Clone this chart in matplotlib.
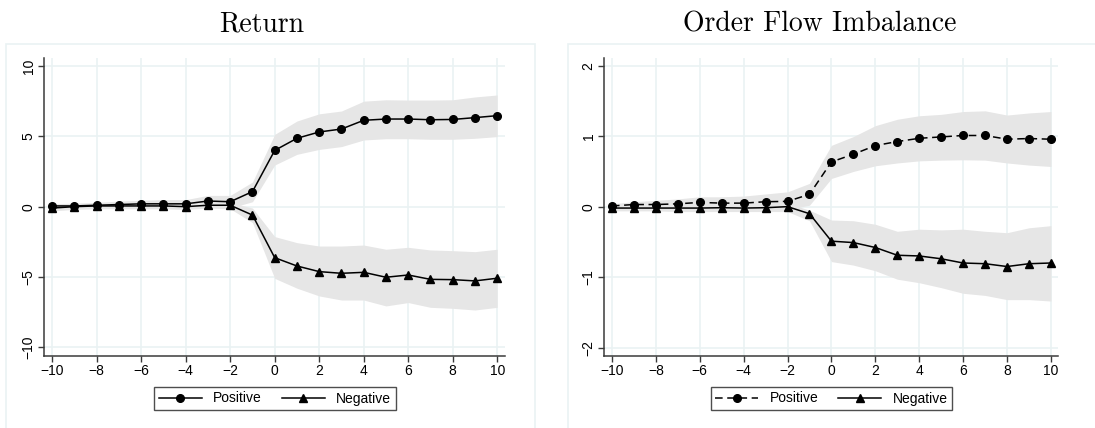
import matplotlib
matplotlib.use("Agg")
import matplotlib.pyplot as plt
from matplotlib.patches import Rectangle

# event time
lags = list(range(-10, 11))

# Return panel
ret_pos = [0.05, 0.05, 0.1, 0.15, 0.2, 0.2, 0.2, 0.4, 0.35, 1.07, 4.0,
           4.86, 5.31, 5.52, 6.14, 6.23, 6.23, 6.18, 6.2, 6.33, 6.47]
ret_pos_hi = [0.2, 0.25, 0.3, 0.4, 0.45, 0.5, 0.5, 0.8, 0.8, 1.75, 5.14,
              6.09, 6.6, 6.8, 7.5, 7.6, 7.58, 7.58, 7.6, 7.8, 7.94]
ret_pos_lo = [-0.1, -0.1, -0.1, -0.1, -0.05, -0.1, -0.1, 0.0, -0.1, 0.35, 2.96,
              3.72, 4.07, 4.27, 4.74, 4.83, 4.83, 4.79, 4.79, 4.86, 4.98]
ret_neg = [-0.1, 0.0, 0.05, 0.05, 0.05, 0.05, 0.0, 0.1, 0.1, -0.6, -3.63,
           -4.22, -4.62, -4.74, -4.67, -5.02, -4.86, -5.17, -5.19, -5.28, -5.09]
ret_neg_hi = [0.1, 0.15, 0.2, 0.2, 0.25, 0.25, 0.2, 0.3, 0.3, -0.1, -2.13,
              -2.56, -2.8, -2.8, -2.73, -3.03, -2.89, -3.08, -3.13, -3.2, -3.03]
ret_neg_lo = [-0.3, -0.2, -0.15, -0.15, -0.15, -0.15, -0.2, -0.1, -0.15, -1.14, -5.1,
              -5.8, -6.35, -6.64, -6.64, -7.06, -6.82, -7.16, -7.23, -7.35, -7.16]

# Order flow imbalance panel
ofi_pos = [0.01, 0.03, 0.03, 0.04, 0.06, 0.05, 0.05, 0.07, 0.075, 0.175, 0.635,
           0.744, 0.867, 0.924, 0.97, 0.99, 1.01, 1.01, 0.957, 0.967, 0.957]
ofi_pos_hi = [0.04, 0.07, 0.09, 0.11, 0.14, 0.14, 0.15, 0.18, 0.21, 0.33, 0.87,
              0.995, 1.15, 1.24, 1.29, 1.31, 1.35, 1.36, 1.30, 1.33, 1.35]
ofi_pos_lo = [-0.02, -0.01, -0.02, -0.02, -0.02, -0.03, -0.03, -0.03, -0.04, 0.02, 0.40,
              0.5, 0.58, 0.62, 0.65, 0.66, 0.665, 0.66, 0.62, 0.59, 0.57]
ofi_neg = [-0.02, -0.02, -0.02, -0.02, -0.02, -0.015, -0.02, -0.015, 0.0, -0.10, -0.49,
           -0.51, -0.58, -0.69, -0.70, -0.74, -0.80, -0.81, -0.85, -0.81, -0.80]
ofi_neg_hi = [0.02, 0.02, 0.02, 0.02, 0.03, 0.03, 0.03, 0.03, 0.05, -0.05, -0.19,
              -0.2, -0.25, -0.35, -0.32, -0.33, -0.32, -0.35, -0.37, -0.3, -0.27]
ofi_neg_lo = [-0.06, -0.06, -0.06, -0.07, -0.07, -0.07, -0.07, -0.07, -0.07, -0.2, -0.78,
              -0.83, -0.91, -1.03, -1.08, -1.15, -1.23, -1.26, -1.32, -1.32, -1.34]

plt.rcParams["font.family"] = ["Liberation Sans", "DejaVu Sans"]

W, H = 1095, 428
fig = plt.figure(figsize=(W / 100, H / 100), dpi=100)

band_col = "#e6e6e6"
grid_col = "#eaf2f3"
axis_col = "#3a3a3a"


def px_axes(x0, y0, x1, y1):
    # pixel box (top-left origin) -> figure axes
    return fig.add_axes([x0 / W, 1 - y1 / H, (x1 - x0) / W, (y1 - y0) / H])


def panel(box, ax_box, title, title_x, xlim, ylim, yticks,
          pos, pos_lo, pos_hi, neg, neg_lo, neg_hi, pos_style, leg_box):
    # light frame round the panel
    fig.patches.append(Rectangle((box[0] / W, 1 - box[3] / H),
                                 (box[2] - box[0]) / W, (box[3] - box[1]) / H,
                                 transform=fig.transFigure, fill=False,
                                 edgecolor=grid_col, linewidth=1.2))
    fig.text(title_x / W, 1 - 24 / H, title, family="cmr10", fontsize=20,
             ha="center", va="center")

    ax = px_axes(*ax_box)
    ax.fill_between(lags, pos_lo, pos_hi, color=band_col, linewidth=0, zorder=1)
    ax.fill_between(lags, neg_lo, neg_hi, color=band_col, linewidth=0, zorder=1)
    l1, = ax.plot(lags, pos, color="black", linestyle=pos_style, linewidth=1.1,
                  marker="o", markersize=5.5, zorder=3,
                  dashes=(5, 3) if pos_style == "--" else (None, None))
    l2, = ax.plot(lags, neg, color="black", linewidth=1.1, marker="^",
                  markersize=6, zorder=3)

    ax.set_xlim(*xlim)
    ax.set_ylim(*ylim)
    ax.set_xticks(range(-10, 11, 2))
    ax.set_yticks(yticks)
    ax.grid(True, color=grid_col, linewidth=1.2, zorder=0)
    ax.set_axisbelow(True)
    for s in ["top", "right"]:
        ax.spines[s].set_visible(False)
    for s in ["left", "bottom"]:
        ax.spines[s].set_color(axis_col)
        ax.spines[s].set_linewidth(1.1)
    ax.tick_params(axis="both", direction="out", length=4, width=1,
                   color=axis_col, labelsize=10, pad=2)
    for lab in ax.get_yticklabels():
        lab.set_rotation(90)
        lab.set_va("center")

    lax = px_axes(*leg_box)
    lax.axis("off")
    lax.legend([l1, l2], ["Positive", "Negative"], loc="center", ncol=2,
               frameon=True, fancybox=False, edgecolor="#222222",
               fontsize=10, handlelength=3.1, columnspacing=1.45,
               borderpad=0.35, handletextpad=0.8).get_frame().set_linewidth(1.0)
    return ax


panel((6, 44, 535, 440), (44, 58, 505, 356), "Return", 262,
      (-10.37, 10.35), (-10.62, 10.57), [-10, -5, 0, 5, 10],
      ret_pos, ret_pos_lo, ret_pos_hi, ret_neg, ret_neg_lo, ret_neg_hi,
      "-", (153, 386, 397, 411))

panel((568, 44, 1110, 440), (604, 58, 1058, 356), "Order Flow Imbalance", 820,
      (-10.36, 10.32), (-2.12, 2.11), [-2, -1, 0, 1, 2],
      ofi_pos, ofi_pos_lo, ofi_pos_hi, ofi_neg, ofi_neg_lo, ofi_neg_hi,
      "--", (711, 386, 952, 411))

fig.savefig("out.png", dpi=100, facecolor="white")
